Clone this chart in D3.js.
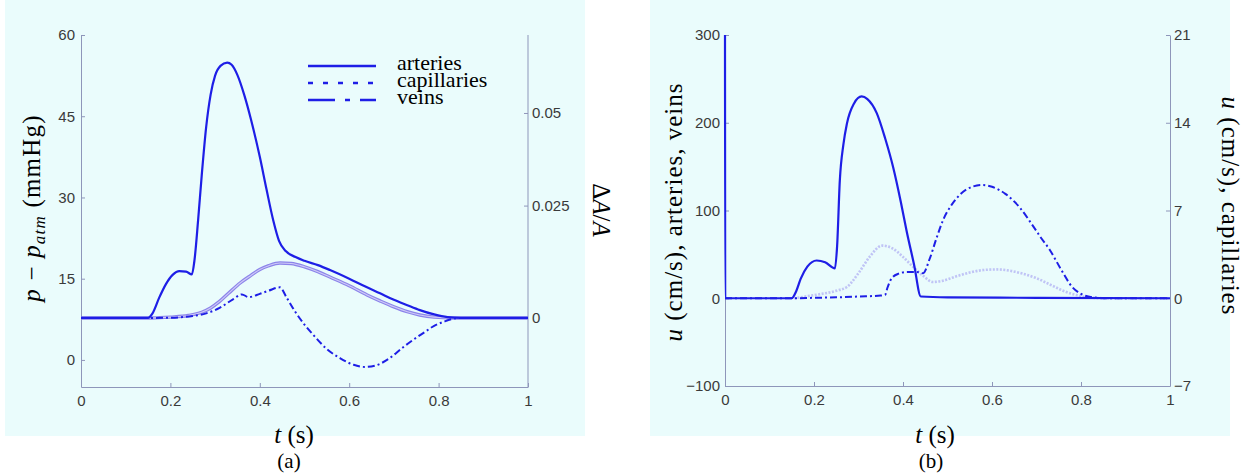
<!DOCTYPE html>
<html>
<head>
<meta charset="utf-8">
<script src="https://cdn.jsdelivr.net/npm/d3@7"></script>
<style>
  body { margin: 0; background: #ffffff; }
  text { font-family: "Liberation Sans", Arial, sans-serif; }
  .serif { font-family: "Liberation Serif", "DejaVu Serif", serif; fill: #000; }
</style>
</head>
<body>
<svg id="fig" width="1259" height="475"></svg>
<script>
// ---------- (a) pressure p - p_atm (mmHg) against time t (s) ----------
const pressureArteries = [
  [0, 7.75], [0.15, 7.75], [0.16, 8.6], [0.175, 11.5], [0.19, 14.0], [0.205, 15.7], [0.22, 16.4],
  [0.235, 16.3], [0.248, 15.8], [0.254, 18.5], [0.262, 25.8], [0.27, 34], [0.28, 43], [0.29, 49],
  [0.30, 52.5], [0.312, 54.3], [0.327, 54.9], [0.337, 54.5], [0.35, 52.6], [0.365, 49], [0.38, 44.5],
  [0.40, 37.5], [0.415, 31.5], [0.43, 25.8], [0.443, 22], [0.458, 20.1], [0.48, 19.0], [0.50, 18.3],
  [0.53, 17.5], [0.557, 16.6], [0.60, 15.0], [0.635, 13.6], [0.669, 12.3], [0.70, 11.1], [0.73, 10.1],
  [0.758, 9.2], [0.79, 8.4], [0.82, 7.9], [0.85, 7.75], [1, 7.75]
];
const pressureCapillaries = [
  [0, 7.75], [0.16, 7.75], [0.2, 7.9], [0.24, 8.2], [0.27, 8.8], [0.29, 9.6], [0.31, 10.8],
  [0.33, 12.3], [0.356, 14.2], [0.38, 15.6], [0.40, 16.7], [0.42, 17.4], [0.445, 17.9], [0.47, 17.8],
  [0.50, 17.2], [0.53, 16.3], [0.557, 15.3], [0.60, 13.7], [0.64, 12.0], [0.669, 10.9], [0.70, 9.8],
  [0.73, 8.9], [0.758, 8.3], [0.79, 7.9], [0.83, 7.75], [1, 7.75]
];
const pressureVeins = [
  [0, 7.75], [0.16, 7.75], [0.2, 7.8], [0.25, 8.1], [0.28, 8.6], [0.31, 9.6], [0.34, 11.2],
  [0.36, 12.1], [0.375, 11.6], [0.40, 12.2], [0.42, 12.8], [0.445, 13.4], [0.46, 11.5], [0.48, 8.8],
  [0.50, 6.5], [0.52, 4.6], [0.55, 2.0], [0.58, 0.3], [0.61, -0.9], [0.635, -1.3], [0.66, -1.0],
  [0.69, 0.3], [0.72, 2.3], [0.743, 3.7], [0.77, 5.2], [0.79, 6.3], [0.81, 7.0], [0.84, 7.7],
  [0.86, 7.75], [1, 7.75]
];
const pressureTicks = [0, 15, 30, 45, 60];
const areaTicks = [0, 0.025, 0.05];
// pressure level that each relative area change sits on
const areaAtPressure = [7.75, 28.5, 45.6];

// ---------- (b) velocity u (cm/s) against time t (s) ----------
const velocityArteries = [
  [0, 300], [0.0005, 0], [0.15, 0], [0.16, 8], [0.17, 22], [0.185, 36], [0.206, 43], [0.225, 41],
  [0.247, 34], [0.252, 60], [0.258, 134], [0.266, 175], [0.274, 199], [0.29, 222], [0.307, 230],
  [0.32, 227], [0.341, 211], [0.36, 182], [0.378, 149], [0.395, 110], [0.408, 77], [0.425, 38],
  [0.44, 2], [0.5, 1], [0.7, 0.5], [1, 0]
];
const velocityVeins = [
  [0, 0], [0.15, 0], [0.2, 0.5], [0.25, 1], [0.3, 2], [0.35, 3], [0.36, 4], [0.365, 12], [0.375, 23],
  [0.39, 28], [0.41, 30], [0.43, 30], [0.445, 28.5], [0.46, 45], [0.475, 68], [0.49, 89], [0.51, 107],
  [0.53, 119], [0.555, 127], [0.578, 129], [0.6, 127], [0.63, 119], [0.663, 103], [0.69, 84],
  [0.71, 69], [0.73, 55], [0.755, 33], [0.78, 13], [0.80, 5], [0.827, 1], [0.86, 0], [1, 0]
];
const velocityCapillaries = [
  [0.155, 0], [0.2, 0.25], [0.25, 0.6], [0.274, 0.9], [0.3, 2.0], [0.325, 3.3], [0.353, 4.2],
  [0.375, 4.0], [0.4, 3.3], [0.42, 2.6], [0.445, 1.8], [0.467, 1.3], [0.49, 1.4], [0.52, 1.75],
  [0.55, 2.05], [0.58, 2.25], [0.61, 2.3], [0.64, 2.2], [0.67, 1.95], [0.7, 1.6], [0.73, 1.1],
  [0.76, 0.6], [0.79, 0.25], [0.82, 0.05], [0.86, 0], [1, 0]
];
const velocityTicks = [-100, 0, 100, 200, 300];
const capillaryTicks = [-7, 0, 7, 14, 21];
const timeTicks = [0, 0.2, 0.4, 0.6, 0.8, 1];
const legendNames = ["arteries", "capillaries", "veins"];

// ---------- styles ----------
const BG = "#eafcfc";
const AXIS = "#8e96ba";
const BLUE = "#1e1ee6";
const CAP_A = "#8c84ea";
const CAP_B = "rgba(150,140,240,0.5)";
const VEIN_DASH = "7,3,2,3";
const TITLE_SIZE = "25px";

const svg = d3.select("#fig");
const fmt = d3.format("~g");

function styleAxis(g) {
  g.selectAll("path, line").attr("stroke", AXIS).attr("stroke-width", 1);
  g.selectAll("text").attr("fill", "#3a3a3a").style("font-size", "15px")
    .style("font-family", "'Liberation Sans', Arial, sans-serif");
}

function plotLine(g, data, x, y, stroke, width, dash) {
  const line = d3.line().x(d => x(d[0])).y(d => y(d[1])).curve(d3.curveMonotoneX);
  const p = g.append("path").datum(data).attr("d", line)
    .attr("fill", "none").attr("stroke", stroke).attr("stroke-width", width)
    .attr("stroke-linejoin", "round");
  if (dash) p.attr("stroke-dasharray", dash);
  return p;
}

// ================= panel (a) =================
svg.append("rect").attr("x", 5).attr("y", 0).attr("width", 580).attr("height", 436).attr("fill", BG);

const xA = d3.scaleLinear([0, 1], [81, 528]);
const yA = d3.scaleLinear([-5, 60], [387, 35]);
const yA2 = d3.scaleLinear(areaTicks, areaAtPressure.map(v => yA(v)));

const gA = svg.append("g");
gA.append("g").attr("transform", `translate(0,${yA.range()[0]})`)
  .call(d3.axisBottom(xA).tickValues(timeTicks).tickFormat(fmt).tickSizeInner(-4).tickSizeOuter(0).tickPadding(8))
  .call(styleAxis);
gA.append("g").attr("transform", `translate(${xA.range()[0]},0)`)
  .call(d3.axisLeft(yA).tickValues(pressureTicks).tickSizeInner(-4).tickSizeOuter(0).tickPadding(6))
  .call(styleAxis);
const rA = gA.append("g").attr("transform", `translate(${xA.range()[1]},0)`)
  .call(d3.axisRight(yA2).tickValues(areaTicks).tickFormat(fmt).tickSizeInner(-4).tickSizeOuter(0).tickPadding(4))
  .call(styleAxis);
rA.select(".domain").remove();
gA.append("line").attr("x1", xA.range()[1]).attr("x2", xA.range()[1])
  .attr("y1", yA.range()[0]).attr("y2", yA.range()[1]).attr("stroke", AXIS);

plotLine(gA, pressureCapillaries, xA, yA, CAP_A, 3.4);
plotLine(gA, pressureCapillaries, xA, yA, "#cfcbf7", 1.1);
plotLine(gA, pressureVeins, xA, yA, BLUE, 2, VEIN_DASH);
plotLine(gA, pressureArteries, xA, yA, BLUE, 2.2);

// legend
const legendStyles = [
  { stroke: BLUE, dash: null },
  { stroke: BLUE, dash: "5,10" },
  { stroke: BLUE, dash: "27,10,5,10" }
];
const leg = gA.append("g").attr("transform", "translate(308,66)");
legendNames.forEach((name, i) => {
  leg.append("line").attr("x1", 0).attr("x2", 68).attr("y1", i * 17).attr("y2", i * 17)
    .attr("stroke", legendStyles[i].stroke).attr("stroke-width", 2.4)
    .attr("stroke-dasharray", legendStyles[i].dash);
  leg.append("text").attr("class", "serif").attr("x", 89).attr("y", i * 17 + 4)
    .style("font-size", "22px").text(name);
});

// axis titles (a)
const tA = gA.append("text").attr("class", "serif").attr("text-anchor", "middle")
  .attr("transform", "translate(40,208) rotate(-90)").style("font-size", TITLE_SIZE)
  .style("letter-spacing", "1.2px");
tA.append("tspan").attr("font-style", "italic").text("p");
tA.append("tspan").text(" − ");
tA.append("tspan").attr("font-style", "italic").text("p");
tA.append("tspan").attr("font-style", "italic").attr("dy", 5).style("font-size", "17px").text("atm");
tA.append("tspan").attr("dy", -5).text("  (mmHg)");

const tA2 = gA.append("text").attr("class", "serif").attr("text-anchor", "middle")
  .attr("transform", "translate(593,210) rotate(90)").style("font-size", TITLE_SIZE);
tA2.append("tspan").text("Δ");
tA2.append("tspan").attr("font-style", "italic").text("A");
tA2.append("tspan").text("/");
tA2.append("tspan").attr("font-style", "italic").text("A");

const xtA = gA.append("text").attr("class", "serif").attr("text-anchor", "middle")
  .attr("x", 294).attr("y", 443).style("font-size", TITLE_SIZE);
xtA.append("tspan").attr("font-style", "italic").text("t");
xtA.append("tspan").text(" (s)");
gA.append("text").attr("class", "serif").attr("text-anchor", "middle")
  .attr("x", 289).attr("y", 468).style("font-size", "21px").text("(a)");

// ================= panel (b) =================
svg.append("rect").attr("x", 650).attr("y", 0).attr("width", 580).attr("height", 436).attr("fill", BG);

const xB = d3.scaleLinear([0, 1], [725, 1170]);
const yB = d3.scaleLinear([-100, 300], [386, 35]);
const yB2 = d3.scaleLinear([-7, 21], [386, 35]);

const gB = svg.append("g");
gB.append("g").attr("transform", `translate(0,${yB.range()[0]})`)
  .call(d3.axisBottom(xB).tickValues(timeTicks).tickFormat(fmt).tickSizeInner(-4).tickSizeOuter(0).tickPadding(8))
  .call(styleAxis);
gB.append("g").attr("transform", `translate(${xB.range()[0]},0)`)
  .call(d3.axisLeft(yB).tickValues(velocityTicks).tickSizeInner(-4).tickSizeOuter(0).tickPadding(5))
  .call(styleAxis);
gB.append("g").attr("transform", `translate(${xB.range()[1]},0)`)
  .call(d3.axisRight(yB2).tickValues(capillaryTicks).tickSizeInner(-4).tickSizeOuter(0).tickPadding(4))
  .call(styleAxis);

plotLine(gB, velocityCapillaries, xB, yB2, CAP_B, 2.6, "2,1.5");
plotLine(gB, velocityVeins, xB, yB, BLUE, 2, VEIN_DASH);
plotLine(gB, velocityArteries, xB, yB, BLUE, 2.2);

// axis titles (b)
const tB = gB.append("text").attr("class", "serif").attr("text-anchor", "middle")
  .attr("transform", "translate(682,212) rotate(-90)").style("font-size", TITLE_SIZE)
  .style("letter-spacing", "1px");
tB.append("tspan").attr("font-style", "italic").text("u");
tB.append("tspan").text(" (cm/s), arteries, veins");

const tB2 = gB.append("text").attr("class", "serif").attr("text-anchor", "middle")
  .attr("transform", "translate(1222,206) rotate(90)").style("font-size", TITLE_SIZE)
  .style("letter-spacing", "1px");
tB2.append("tspan").attr("font-style", "italic").text("u");
tB2.append("tspan").text(" (cm/s), capillaries");

const xtB = gB.append("text").attr("class", "serif").attr("text-anchor", "middle")
  .attr("x", 935).attr("y", 443).style("font-size", TITLE_SIZE);
xtB.append("tspan").attr("font-style", "italic").text("t");
xtB.append("tspan").text(" (s)");
gB.append("text").attr("class", "serif").attr("text-anchor", "middle")
  .attr("x", 931).attr("y", 468).style("font-size", "21px").text("(b)");
</script>
</body>
</html>
